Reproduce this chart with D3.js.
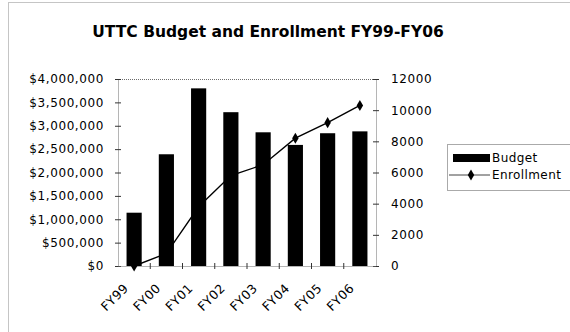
<!DOCTYPE html>
<html>
<head>
<meta charset="utf-8">
<script src="https://d3js.org/d3.v7.min.js"></script>
<style>
  html, body { margin: 0; padding: 0; background: #fff; }
  svg { display: block; }
  text { font-family: "DejaVu Sans", sans-serif; fill: #000; }
</style>
</head>
<body>
<svg id="chart" width="570" height="332"></svg>
<script>
// Fiscal years, budget (dollars) and enrollment (students)
const years = ["FY99", "FY00", "FY01", "FY02", "FY03", "FY04", "FY05", "FY06"];
const budget = [1140000, 2390000, 3800000, 3290000, 2860000, 2590000, 2840000, 2880000];
const enrollment = [0, 800, 3800, 5800, 6500, 8200, 9200, 10300];
const budgetTicks = [0, 500000, 1000000, 1500000, 2000000, 2500000, 3000000, 3500000, 4000000];
const enrollTicks = [0, 2000, 4000, 6000, 8000, 10000, 12000];

const svg = d3.select("#chart");
const plot = { left: 118, right: 376, top: 79, bottom: 266 };
const axisColor = "#6a6a6a";

// chart frame
svg.append("rect")
  .attr("x", 8.5).attr("y", 2.5).attr("width", 570).attr("height", 340)
  .attr("fill", "none").attr("stroke", "#8a8a8a").attr("stroke-dasharray", "1,1");

svg.append("text")
  .attr("x", 268).attr("y", 37)
  .attr("text-anchor", "middle")
  .style("font-weight", "bold").style("font-size", "15.5px")
  .text("UTTC Budget and Enrollment FY99-FY06");

const x = d3.scaleBand().domain(years).range([plot.left, plot.right]).paddingInner(0.53).paddingOuter(0.265);
const xStep = d3.scaleBand().domain(years).range([plot.left, plot.right]);
const yL = d3.scaleLinear().domain([0, 4000000]).range([plot.bottom, plot.top]);
const yR = d3.scaleLinear().domain([0, 12000]).range([plot.bottom, plot.top]);

// plot-area top border
svg.append("line")
  .attr("x1", plot.left).attr("x2", plot.right)
  .attr("y1", plot.top + 0.5).attr("y2", plot.top + 0.5)
  .attr("stroke", axisColor).attr("stroke-dasharray", "1,1");

// bars
svg.append("g").selectAll("rect").data(years).join("rect")
  .attr("x", d => x(d))
  .attr("width", x.bandwidth())
  .attr("y", (d, i) => yL(budget[i]))
  .attr("height", (d, i) => yL(0) - yL(budget[i]))
  .attr("fill", "#000");

function styleAxis(g) {
  g.select(".domain").attr("stroke", axisColor).attr("stroke-dasharray", "1,1");
  g.selectAll(".tick line").attr("stroke", "#333");
  g.selectAll(".tick text")
    .style("font-size", "12px")
    .style("letter-spacing", "0.6px")
    .style("font-family", "DejaVu Sans, sans-serif");
}

// left axis (budget)
const fmtDollar = v => "$" + d3.format(",")(v);
const gL = svg.append("g").attr("transform", `translate(${plot.left},0)`)
  .call(d3.axisLeft(yL).tickValues(budgetTicks).tickFormat(fmtDollar).tickSize(3).tickSizeOuter(0).tickPadding(11));
styleAxis(gL);
gL.selectAll(".tick line").attr("x1", 3);

// right axis (enrollment)
const gR = svg.append("g").attr("transform", `translate(${plot.right},0)`)
  .call(d3.axisRight(yR).tickValues(enrollTicks).tickFormat(d3.format("d")).tickSize(3).tickSizeOuter(0).tickPadding(12));
styleAxis(gR);
gR.selectAll(".tick line").attr("x1", -3);

// bottom axis with ticks between categories
const gB = svg.append("g").attr("transform", `translate(0,${plot.bottom})`)
  .call(d3.axisBottom(xStep).tickSize(0).tickFormat(""));
gB.select(".domain").attr("stroke", axisColor).attr("stroke-dasharray", "1,1");
gB.selectAll(".tick").remove();
gB.selectAll("line.sep").data(years.slice(1)).join("line")
  .attr("class", "sep")
  .attr("x1", d => xStep(d)).attr("x2", d => xStep(d))
  .attr("y1", -3).attr("y2", 3)
  .attr("stroke", "#333");

// rotated category labels
const cx = (d) => xStep(d) + xStep.bandwidth() / 2;
svg.append("g").selectAll("text").data(years).join("text")
  .attr("transform", d => `translate(${cx(d) - 5},${plot.bottom + 23}) rotate(-45)`)
  .attr("text-anchor", "end")
  .style("font-size", "12.5px")
  .style("letter-spacing", "0.4px")
  .text(d => d);

// enrollment line and diamond markers
const line = d3.line().x((d, i) => cx(years[i])).y(d => yR(d));
svg.append("path").datum(enrollment)
  .attr("d", line).attr("fill", "none").attr("stroke", "#000").attr("stroke-width", 1.4);
const diamond = d3.symbol().type(d3.symbolDiamond).size(36);
svg.append("g").selectAll("path").data(enrollment).join("path")
  .attr("transform", (d, i) => `translate(${cx(years[i])},${yR(d)})`)
  .attr("d", diamond).attr("fill", "#000");

// legend
const lg = svg.append("g");
lg.append("rect").attr("x", 447.5).attr("y", 144.5).attr("width", 140).attr("height", 46)
  .attr("fill", "#fff").attr("stroke", "#555").attr("stroke-dasharray", "1,1");
lg.append("rect").attr("x", 453).attr("y", 154).attr("width", 37).attr("height", 8).attr("fill", "#000");
lg.append("text").attr("x", 492).attr("y", 162).style("font-size", "12px").style("letter-spacing", "0.4px").text("Budget");
lg.append("line").attr("x1", 449).attr("x2", 490).attr("y1", 175).attr("y2", 175)
  .attr("stroke", "#444").attr("stroke-width", 1);
lg.append("path").attr("transform", "translate(471,175)").attr("d", diamond).attr("fill", "#000");
lg.append("text").attr("x", 492).attr("y", 179).style("font-size", "12px").style("letter-spacing", "0.4px").text("Enrollment");
</script>
</body>
</html>
